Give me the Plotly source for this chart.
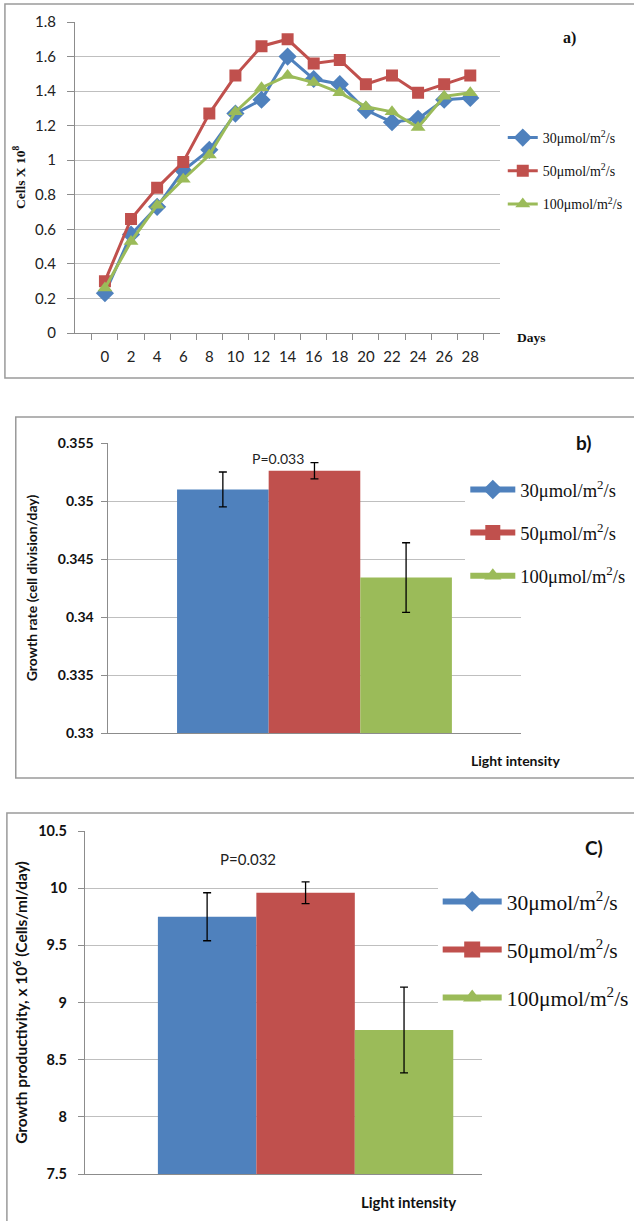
import plotly.graph_objects as go

W, H = 634, 1221

# ---------------- data ----------------
days = ["0", "2", "4", "6", "8", "10", "12", "14", "16", "18", "20", "22", "24", "26", "28"]
series_names = ["30μmol/m<sup>2</sup>/s", "50μmol/m<sup>2</sup>/s", "100μmol/m<sup>2</sup>/s"]
cells_30 = [0.23, 0.57, 0.73, 0.94, 1.06, 1.27, 1.35, 1.60, 1.47, 1.44, 1.29, 1.22, 1.24, 1.35, 1.36]
cells_50 = [0.30, 0.66, 0.84, 0.99, 1.27, 1.49, 1.66, 1.70, 1.56, 1.58, 1.44, 1.49, 1.39, 1.44, 1.49]
cells_100 = [0.26, 0.53, 0.74, 0.89, 1.03, 1.28, 1.42, 1.49, 1.45, 1.39, 1.31, 1.28, 1.19, 1.37, 1.39]

growth_rate = [0.3510, 0.3526, 0.3434]
growth_rate_err = [0.0015, 0.0007, 0.0030]
productivity = [9.75, 9.96, 8.76]
productivity_err = [0.21, 0.095, 0.375]

colors = ["#4F81BD", "#C0504D", "#9BBB59"]
symbols = ["diamond", "square", "triangle-up"]
marker_sizes = [14, 12, 13]

GRID = "#BFBFBF"
AXIS = "#8C8C8C"
BORDER = "#9A9A9A"


def px_x(v):
    return v / W


def px_y(v):
    return 1 - v / H


fig = go.Figure()

# ---------------- panel a: line chart ----------------
for vals, name, c, s, ms in zip([cells_30, cells_50, cells_100], series_names, colors, symbols, marker_sizes):
    fig.add_trace(go.Scatter(
        x=days, y=vals, name=name, mode="lines+markers",
        line=dict(color=c, width=3),
        marker=dict(symbol=s, size=ms, color=c),
        xaxis="x", yaxis="y", legend="legend", legendgroup="a" + name,
    ))

# ---------------- panel b: bar chart ----------------
for v, e, name, c in zip(growth_rate, growth_rate_err, series_names, colors):
    fig.add_trace(go.Bar(
        x=[0], y=[v], name=name, marker=dict(color=c, line=dict(width=0)),
        error_y=dict(type="data", array=[e], color="black", thickness=1.3, width=4),
        xaxis="x2", yaxis="y2", showlegend=False,
    ))
for name, c, s in zip(series_names, colors, symbols):
    fig.add_trace(go.Scatter(
        x=[None], y=[None], name=name, mode="lines+markers",
        line=dict(color=c, width=6), marker=dict(symbol=s, size=15, color=c),
        xaxis="x2", yaxis="y2", legend="legend2", legendgroup="b" + name,
    ))

# ---------------- panel c: bar chart ----------------
for v, e, name, c in zip(productivity, productivity_err, series_names, colors):
    fig.add_trace(go.Bar(
        x=[0], y=[v], name=name, marker=dict(color=c, line=dict(width=0)),
        error_y=dict(type="data", array=[e], color="black", thickness=1.3, width=4),
        xaxis="x3", yaxis="y3", showlegend=False,
    ))
for name, c, s in zip(series_names, colors, symbols):
    fig.add_trace(go.Scatter(
        x=[None], y=[None], name=name, mode="lines+markers",
        line=dict(color=c, width=6), marker=dict(symbol=s, size=16, color=c),
        xaxis="x3", yaxis="y3", legend="legend3", legendgroup="c" + name,
    ))

tickfont_a = dict(family="Lato", size=15, color="#222")
tickfont_bc = dict(family="Lato", size=14, color="#111", weight="bold")

fig.update_layout(
    template="none",
    width=W, height=H, autosize=False,
    margin=dict(l=0, r=0, t=0, b=0, pad=0),
    paper_bgcolor="white", plot_bgcolor="white",
    barmode="group", bargap=0.333, bargroupgap=0,
    showlegend=True,
    # axes panel a
    xaxis=dict(domain=[px_x(76), px_x(507.5)], anchor="y", type="category", automargin=False,
               showline=True, linecolor=AXIS, linewidth=1, tickangle=0,
               ticks="outside", tickson="boundaries", ticklen=6, tickcolor=AXIS,
               showgrid=False, zeroline=False, tickfont=tickfont_a, ticklabelstandoff=10),
    yaxis=dict(domain=[px_y(333), px_y(22)], anchor="x", range=[0, 1.8], dtick=0.2, automargin=False,
               showline=True, linecolor=AXIS, ticks="outside", ticklen=7, tickcolor=AXIS,
               showgrid=True, gridcolor=GRID, gridwidth=1, zeroline=False,
               tickfont=tickfont_a, ticklabelstandoff=8,
               title=dict(text="Cells X 10<sup>8</sup>", standoff=6,
                          font=dict(family="Liberation Serif", size=13.5, color="#111", weight="bold"))),
    # axes panel b
    xaxis2=dict(domain=[px_x(110), px_x(528)], anchor="y2", range=[-0.5, 0.5], automargin=False,
                showline=True, linecolor=AXIS, showticklabels=False, ticks="",
                showgrid=False, zeroline=False),
    yaxis2=dict(domain=[px_y(733), px_y(443)], anchor="x2", range=[0.33, 0.355], dtick=0.005,
                automargin=False,
                showline=True, linecolor=AXIS, ticks="outside", ticklen=6, tickcolor=AXIS,
                showgrid=True, gridcolor=GRID, zeroline=False,
                tickfont=tickfont_bc, ticklabelstandoff=5,
                title=dict(text="Growth rate (cell division/day)", standoff=16,
                           font=dict(family="Lato", size=14, color="#111", weight="bold"))),
    # axes panel c
    xaxis3=dict(domain=[px_x(86), px_x(489)], anchor="y3", range=[-0.4986, 0.3985], automargin=False,
                showline=True, linecolor=AXIS, showticklabels=False, ticks="",
                showgrid=False, zeroline=False),
    yaxis3=dict(domain=[px_y(1174), px_y(831)], anchor="x3", range=[7.5, 10.5], dtick=0.5,
                automargin=False,
                showline=True, linecolor=AXIS, ticks="outside", ticklen=6, tickcolor=AXIS,
                showgrid=True, gridcolor=GRID, zeroline=False,
                tickfont=dict(family="Lato", size=14.5, color="#111", weight="bold"), ticklabelstandoff=8,
                title=dict(text="Growth productivity, x 10<sup>6</sup> (Cells/ml/day)", standoff=6,
                           font=dict(family="Lato", size=15.5, color="#111", weight="bold"))),
    legend=dict(x=px_x(510), y=px_y(122), xanchor="left", yanchor="top",
                bgcolor="rgba(255,255,255,0)", traceorder="grouped", tracegroupgap=12,
                font=dict(family="Liberation Serif", size=14, color="#111"),
                itemwidth=30),
    legend2=dict(x=px_x(472), y=px_y(471), xanchor="left", yanchor="top",
                 bgcolor="white", traceorder="grouped", tracegroupgap=16,
                 font=dict(family="Liberation Serif", size=18.5, color="#111"),
                 itemwidth=45),
    legend3=dict(x=px_x(444), y=px_y(881), xanchor="left", yanchor="top",
                 bgcolor="white", traceorder="grouped", tracegroupgap=17,
                 font=dict(family="Liberation Serif", size=21.5, color="#111"),
                 itemwidth=59),
)

# panel borders
fig.add_shape(type="rect", xref="paper", yref="paper",
              x0=px_x(5), x1=px_x(645), y0=px_y(378), y1=px_y(4),
              line=dict(color=BORDER, width=1.5), layer="below")
fig.add_shape(type="rect", xref="paper", yref="paper",
              x0=px_x(16), x1=px_x(645), y0=px_y(778), y1=px_y(417),
              line=dict(color=BORDER, width=1.5), layer="below")
fig.add_shape(type="rect", xref="paper", yref="paper",
              x0=px_x(7), x1=px_x(645), y0=px_y(1235), y1=px_y(813),
              line=dict(color=BORDER, width=1.5), layer="below")

ann = [
    dict(text="<b>a)</b>", x=px_x(578), y=px_y(38), font=dict(family="Liberation Serif", size=16, color="#111")),
    dict(text="<b>Days</b>", x=px_x(539), y=px_y(337), font=dict(family="Liberation Serif", size=13.5, color="#111")),
    dict(text="<b>b)</b>", x=px_x(592), y=px_y(443), font=dict(family="Lato", size=19, color="#111")),
    dict(text="P=0.033", x=px_x(282), y=px_y(458), font=dict(family="Lato", size=14, color="#222")),
    dict(text="<b>Light intensity</b>", x=px_x(523), y=px_y(760), font=dict(family="Lato", size=14, color="#111")),
    dict(text="<b>C)</b>", x=px_x(603), y=px_y(847), font=dict(family="Lato", size=19, color="#111")),
    dict(text="P=0.032", x=px_x(252), y=px_y(859), font=dict(family="Lato", size=15, color="#222")),
    dict(text="<b>Light intensity</b>", x=px_x(414), y=px_y(1202), font=dict(family="Lato", size=15, color="#111")),
]
for a in ann:
    fig.add_annotation(xref="paper", yref="paper", showarrow=False,
                       xanchor="center", yanchor="middle", **a)

fig.write_html("out.html", config={"displayModeBar": False},
               post_script="document.body.style.margin='0';")
